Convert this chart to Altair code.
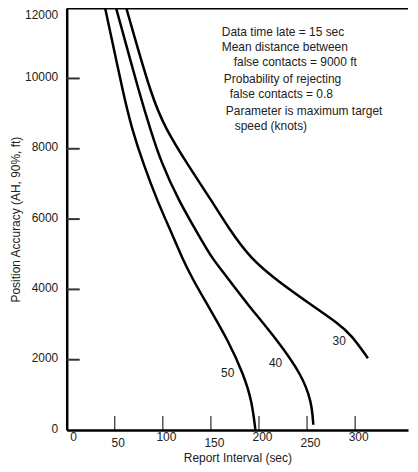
import altair as alt
import pandas as pd

# Curves: parameter = maximum target speed (knots)
c50_x = [40.0, 60.0, 67.9, 78.9, 94.4, 111.7, 120.3, 130.6, 144.5, 168.6, 184.1, 192.7, 196.2]
c50_y = [12000, 9419, 8568, 7632, 6497, 5447, 4880, 4312, 3651, 2516, 1569, 814, 10]
c40_x = [51.4, 77.2, 86.9, 97.9, 116.9, 139.3, 151.3, 165.2, 185.8, 220.3, 244.4, 254.7, 256.5]
c40_y = [12000, 9419, 8568, 7632, 6497, 5447, 4880, 4406, 3651, 2516, 1569, 814, 150]
c30_x = [62.0, 88.9, 103.1, 123.8, 151.3, 168.6, 191.0, 220.3, 254.7, 282.3, 296.1, 313.3]
c30_y = [12000, 9419, 8568, 7632, 6497, 5731, 4880, 4219, 3555, 3036, 2704, 2043]

curve_labels = ["30", "40", "50"]
label_x = [283.4, 217.2, 167.5]
label_y = [2525, 1900, 1617]

note_lines = [
    "Data time late = 15 sec",
    "Mean distance between",
    "false contacts = 9000 ft",
    "Probability of rejecting",
    "false contacts = 0.8",
    "Parameter is maximum target",
    "speed (knots)",
]
note_x = [161.3, 161.3, 173.7, 163.4, 169.6, 165.5, 174.8]
note_y = [11320, 10894, 10469, 9986, 9561, 9078, 8653]

x_ticks = [50, 100, 150, 200, 250, 300]
x_labels = [0, 50, 100, 150, 200, 250, 300]
y_ticks = [2000, 4000, 6000, 8000, 10000]
y_labels = [0, 2000, 4000, 6000, 8000, 10000, 12000]
x_max = 355
y_max = 12000

FONT = "Liberation Sans"
TXT = "#222222"

rows = []
for name, xs, ys in [("50", c50_x, c50_y), ("40", c40_x, c40_y), ("30", c30_x, c30_y)]:
    for i, (a, b) in enumerate(zip(xs, ys)):
        rows.append({"speed": name, "x": a, "y": b, "i": i})
curves = pd.DataFrame(rows)

xs = alt.Scale(domain=[0, x_max], nice=False, zero=False)
ys = alt.Scale(domain=[0, y_max], nice=False, zero=False)

xaxis = alt.Axis(
    values=x_labels, title="Report Interval (sec)", ticks=False, grid=False, format="d",
    domainColor="black", domainWidth=2.5,
    labelFont=FONT, labelFontSize=12, labelColor=TXT,
    labelPadding={"condition": {"test": "datum.value % 100 == 50", "value": 8}, "value": 2},
    labelOffset=3,
    titleFont=FONT, titleFontSize=12, titleFontWeight="normal", titleColor=TXT,
    titlePadding=4,
)
yaxis = alt.Axis(
    values=y_labels, title="Position Accuracy (AH, 90%, ft)", ticks=False, grid=False, format="d",
    domainColor="black", domainWidth=2.5,
    labelBaseline={"condition": {"test": "datum.value == 12000", "value": "top"}, "value": "middle"},
    labelOffset={"condition": {"test": "datum.value == 12000", "value": 1}, "value": -2},
    labelFont=FONT, labelFontSize=12, labelColor=TXT, labelPadding=9,
    titleFont=FONT, titleFontSize=12, titleFontWeight="normal", titleColor=TXT,
    titlePadding=2,
)

lines = alt.Chart(curves).mark_line(color="black", strokeWidth=2.5, interpolate="basis").encode(
    x=alt.X("x:Q", scale=xs, axis=xaxis),
    y=alt.Y("y:Q", scale=ys, axis=yaxis),
    detail="speed:N",
    order="i:Q",
)

top = alt.Chart(pd.DataFrame({"y": [y_max], "x0": [0], "x1": [x_max]})).mark_rule(
    color="black", strokeWidth=2.5
).encode(x=alt.X("x0:Q", scale=xs), x2="x1:Q", y=alt.Y("y:Q", scale=ys))

xt = alt.Chart(pd.DataFrame({"x": x_ticks, "y0": [0] * len(x_ticks), "y1": [400] * len(x_ticks)})).mark_rule(
    color="black", strokeWidth=1
).encode(x=alt.X("x:Q", scale=xs), y=alt.Y("y0:Q", scale=ys), y2="y1:Q")

yt = alt.Chart(pd.DataFrame({"y": y_ticks, "x0": [0] * len(y_ticks), "x1": [13.5] * len(y_ticks)})).mark_rule(
    color="#333333", strokeWidth=2
).encode(y=alt.Y("y:Q", scale=ys), x=alt.X("x0:Q", scale=xs), x2="x1:Q")

lbl = alt.Chart(pd.DataFrame({"t": curve_labels, "x": label_x, "y": label_y})).mark_text(
    font=FONT, fontSize=12, color=TXT, align="center", baseline="middle"
).encode(x=alt.X("x:Q", scale=xs), y=alt.Y("y:Q", scale=ys), text="t:N")

notes = alt.Chart(pd.DataFrame({"t": note_lines, "x": note_x, "y": note_y})).mark_text(
    font=FONT, fontSize=12, color=TXT, align="left", baseline="middle"
).encode(x=alt.X("x:Q", scale=xs), y=alt.Y("y:Q", scale=ys), text="t:N")

chart = alt.layer(lines, top, xt, yt, lbl, notes).properties(
    width=343, height=424,
    padding={"left": 1, "top": -6, "right": 0, "bottom": 0},
    background="white",
).configure_view(strokeWidth=0)

chart.save("out.html", embed_options={"renderer": "svg", "actions": False})
